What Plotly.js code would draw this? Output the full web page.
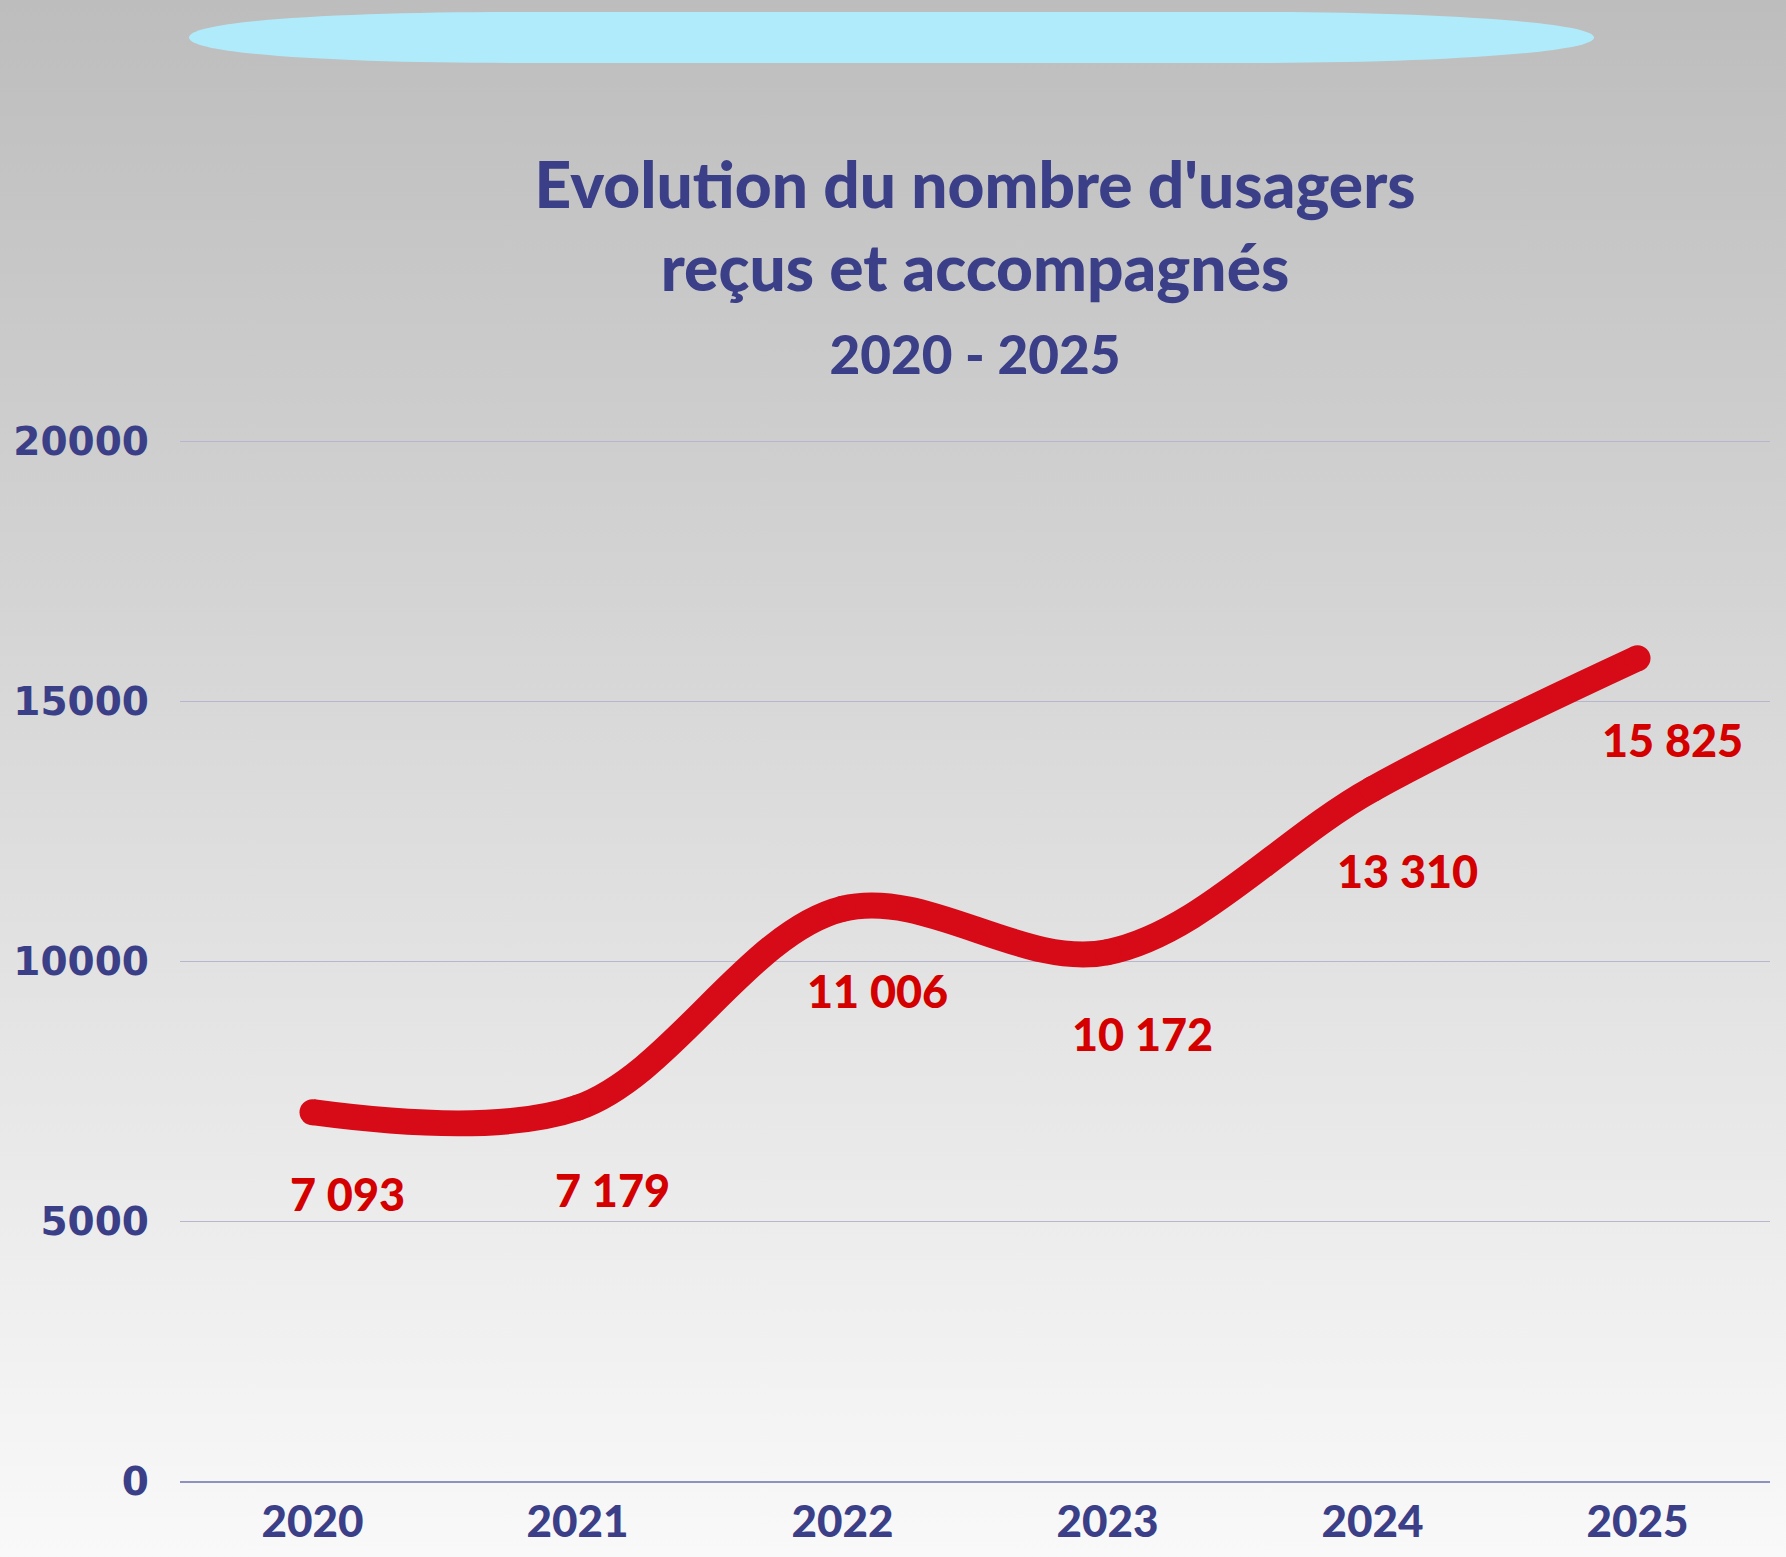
<!DOCTYPE html>
<html>
<head>
<meta charset="utf-8">
<script src="https://cdn.plot.ly/plotly-3.0.1.min.js"></script>
<style>
  html, body { margin: 0; padding: 0; }
  body {
    width: 1786px; height: 1557px;
    background: linear-gradient(to bottom, #bdbdbd 0%, #f9f9f9 100%);
  }
  #chart { width: 1786px; height: 1557px; }
</style>
</head>
<body>
<div id="chart"></div>
<script>
"use strict";

const years = ["2020", "2021", "2022", "2023", "2024", "2025"];
const usagers = [7093, 7179, 11006, 10172, 13310, 15825];
const labels = ["7 093", "7 179", "11 006", "10 172", "13 310", "15 825"];
const yTicks = [0, 5000, 10000, 15000, 20000];

const W = 1786, H = 1557;
const M = {l: 180, r: 16, t: 436, b: 76};
const yMax = 20100;
const navy = "#3a3f87";
const red = "#d70a17";

// pixel -> paper coords
function px(x, y) {
    let xp = (x - M.l) / (W - M.l - M.r);
    let yp = (H - M.b - y) / (H - M.t - M.b);
    return xp.toFixed(5) + "," + yp.toFixed(5);
}

function pillPath() {
    return "M" + px(189, 37.5) +
        " C" + px(189, 20) + " " + px(350, 12) + " " + px(512, 12) +
        " L" + px(1253, 12) +
        " C" + px(1430, 12) + " " + px(1594, 22) + " " + px(1594, 37.5) +
        " C" + px(1594, 53) + " " + px(1430, 63) + " " + px(1253, 63) +
        " L" + px(512, 63) +
        " C" + px(350, 63) + " " + px(189, 55) + " " + px(189, 37.5) + " Z";
}

function main() {
    let trace = {
        x: years,
        y: usagers,
        type: "scatter",
        mode: "lines+markers",
        line: {color: red, width: 26, shape: "spline", smoothing: 1},
        marker: {color: red, size: 26},
        hoverinfo: "x+y",
        showlegend: false
    };

    // category index as x, a year string would be read as a number
    let notes = years.map((yr, i) => ({
        x: i, y: usagers[i], xref: "x", yref: "y",
        text: labels[i], showarrow: false,
        xshift: 35, yshift: -82,
        font: {family: "Lato, sans-serif", size: 45, color: "#d40000", weight: 900}
    }));

    let layout = {
        width: W, height: H,
        margin: M,
        paper_bgcolor: "rgba(0,0,0,0)",
        plot_bgcolor: "rgba(0,0,0,0)",
        title: {
            text: "Evolution du nombre d'usagers<br>reçus et accompagnés<br>" +
                  "<span style='font-size:53px'>2020 - 2025</span>",
            font: {family: "Lato, sans-serif", size: 64, color: navy, weight: 900},
            x: 0.5, xref: "paper",
            y: 1 - 208 / H, yref: "container", yanchor: "top"
        },
        xaxis: {
            type: "category",
            range: [-0.5, 5.5],
            showgrid: false,
            showline: true, linecolor: "#8e92bf", linewidth: 2,
            ticks: "", ticklabelstandoff: 1,
            tickfont: {family: "Lato, sans-serif", size: 44, color: navy, weight: 900},
            fixedrange: true
        },
        yaxis: {
            range: [0, yMax],
            tickvals: yTicks,
            ticktext: yTicks.map(String),
            showgrid: true, gridcolor: "#b6b6cc", gridwidth: 1,
            zeroline: false,
            showline: false,
            ticks: "", ticklabelstandoff: 30,
            tickfont: {family: "DejaVu Sans, sans-serif", size: 39, color: navy, weight: 700},
            fixedrange: true
        },
        shapes: [{
            type: "path", xref: "paper", yref: "paper",
            path: pillPath(),
            fillcolor: "#b0ebfb", line: {width: 0}, layer: "below"
        }],
        annotations: notes
    };

    Plotly.newPlot("chart", [trace], layout, {displayModeBar: false, staticPlot: true});
}

document.addEventListener("DOMContentLoaded", () => main());
</script>
</body>
</html>
